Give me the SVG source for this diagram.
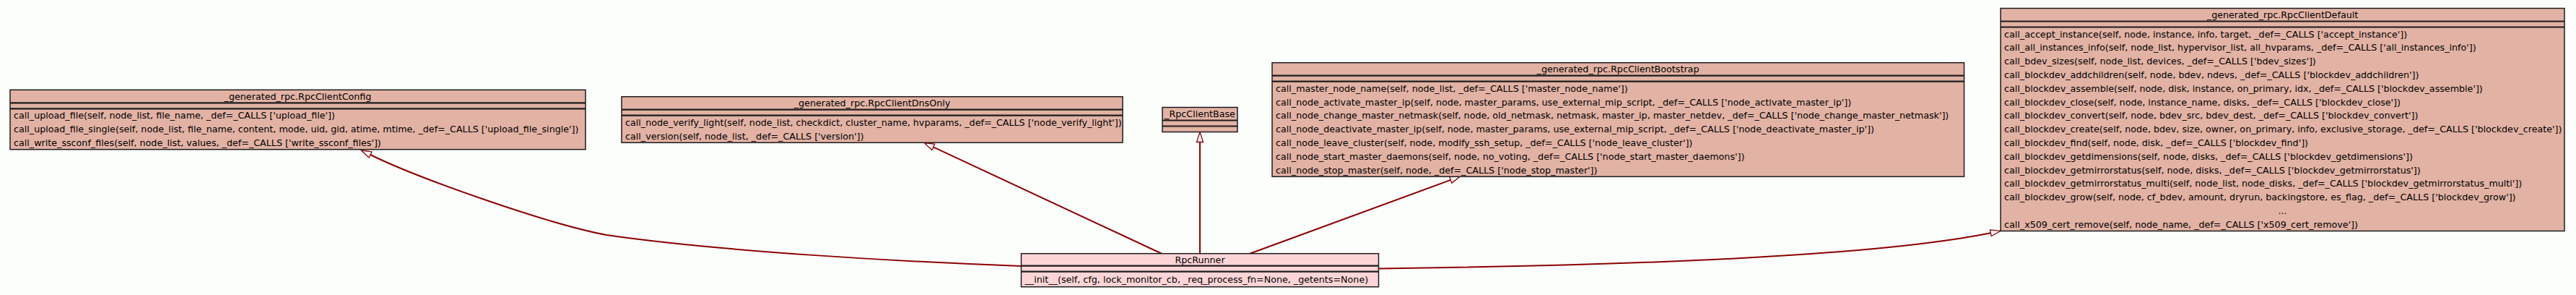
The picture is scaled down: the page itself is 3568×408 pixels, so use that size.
<svg xmlns="http://www.w3.org/2000/svg" width="3568" height="408" viewBox="0 0 3568 408">
<style>
.bg{fill:#fcfefc}
.box{fill:#e2b2a4;stroke:#1c1c1c;stroke-width:1.5}
.run{fill:#fdd5d7;stroke:#1c1c1c;stroke-width:1.5}
.sep{stroke:#1c1c1c;stroke-width:2.2}
text{font-family:"DejaVu Sans","Liberation Sans",sans-serif;font-size:12.7px;fill:#000}
.h{text-anchor:middle}
.edge{fill:none;stroke:#8b0000;stroke-width:2;marker-end:url(#tri)}
</style>
<defs>
<marker id="tri" markerUnits="userSpaceOnUse" markerWidth="16" markerHeight="12" viewBox="0 -6 16 12" refX="0" refY="0" orient="auto" overflow="visible">
<path d="M0,-4.5 L14,0 L0,4.5 Z" fill="#fcfefc" stroke="#8b0000" stroke-width="1.3"/>
</marker>
</defs>
<rect class="bg" x="0" y="0" width="3568" height="408"/>

<g id="edges">
<path class="edge" d="M1414.5,368 C1250,362 1000,348 840,325 C760,310 580,247 513,214"/>
<path class="edge" d="M1609.5,351 L1292.7,203.4"/>
<path class="edge" d="M1662,351 L1662,196.5"/>
<path class="edge" d="M1730.5,351 L2009.3,248.9"/>
<path class="edge" d="M1909.5,371.5 C2250,367 2590,355.7 2757.3,322.2"/>
</g>

<g id="RpcClientConfig">
<rect class="box" x="14" y="124.3" width="797" height="82.4"/>
<line class="sep" x1="14" y1="142.3" x2="811" y2="142.3"/>
<line class="sep" x1="14" y1="150.3" x2="811" y2="150.3"/>
<text class="h" x="412.5" y="137.9">_generated_rpc.RpcClientConfig</text>
<text x="19" y="164.3">call_upload_file(self, node_list, file_name, _def=_CALLS ['upload_file'])</text>
<text x="19" y="183.1">call_upload_file_single(self, node_list, file_name, content, mode, uid, gid, atime, mtime, _def=_CALLS ['upload_file_single'])</text>
<text x="19" y="201.9">call_write_ssconf_files(self, node_list, values, _def=_CALLS ['write_ssconf_files'])</text>
</g>

<g id="RpcClientDnsOnly">
<rect class="box" x="861" y="133.7" width="694" height="63.6"/>
<line class="sep" x1="861" y1="151.7" x2="1555" y2="151.7"/>
<line class="sep" x1="861" y1="159.7" x2="1555" y2="159.7"/>
<text class="h" x="1208" y="147.3">_generated_rpc.RpcClientDnsOnly</text>
<text x="866" y="173.7">call_node_verify_light(self, node_list, checkdict, cluster_name, hvparams, _def=_CALLS ['node_verify_light'])</text>
<text x="866" y="192.5">call_version(self, node_list, _def=_CALLS ['version'])</text>
</g>

<g id="RpcClientBase">
<rect class="box" x="1610" y="148.5" width="104" height="34"/>
<line class="sep" x1="1610" y1="166.5" x2="1714" y2="166.5"/>
<line class="sep" x1="1610" y1="174.5" x2="1714" y2="174.5"/>
<text class="h" x="1662" y="162.1">_RpcClientBase</text>
</g>

<g id="RpcClientBootstrap">
<rect class="box" x="1762" y="86.7" width="958.5" height="157.6"/>
<line class="sep" x1="1762" y1="104.7" x2="2720.5" y2="104.7"/>
<line class="sep" x1="1762" y1="112.7" x2="2720.5" y2="112.7"/>
<text class="h" x="2241" y="100.3">_generated_rpc.RpcClientBootstrap</text>
<text x="1767" y="126.7">call_master_node_name(self, node_list, _def=_CALLS ['master_node_name'])</text>
<text x="1767" y="145.5">call_node_activate_master_ip(self, node, master_params, use_external_mip_script, _def=_CALLS ['node_activate_master_ip'])</text>
<text x="1767" y="164.3">call_node_change_master_netmask(self, node, old_netmask, netmask, master_ip, master_netdev, _def=_CALLS ['node_change_master_netmask'])</text>
<text x="1767" y="183.1">call_node_deactivate_master_ip(self, node, master_params, use_external_mip_script, _def=_CALLS ['node_deactivate_master_ip'])</text>
<text x="1767" y="201.9">call_node_leave_cluster(self, node, modify_ssh_setup, _def=_CALLS ['node_leave_cluster'])</text>
<text x="1767" y="220.7">call_node_start_master_daemons(self, node, no_voting, _def=_CALLS ['node_start_master_daemons'])</text>
<text x="1767" y="239.5">call_node_stop_master(self, node, _def=_CALLS ['node_stop_master'])</text>
</g>

<g id="RpcClientDefault">
<rect class="box" x="2771" y="11.5" width="781" height="308"/>
<line class="sep" x1="2771" y1="29.5" x2="3552" y2="29.5"/>
<line class="sep" x1="2771" y1="37.5" x2="3552" y2="37.5"/>
<text class="h" x="3161.5" y="25.1">_generated_rpc.RpcClientDefault</text>
<text x="2776" y="51.5">call_accept_instance(self, node, instance, info, target, _def=_CALLS ['accept_instance'])</text>
<text x="2776" y="70.3">call_all_instances_info(self, node_list, hypervisor_list, all_hvparams, _def=_CALLS ['all_instances_info'])</text>
<text x="2776" y="89.1">call_bdev_sizes(self, node_list, devices, _def=_CALLS ['bdev_sizes'])</text>
<text x="2776" y="107.9">call_blockdev_addchildren(self, node, bdev, ndevs, _def=_CALLS ['blockdev_addchildren'])</text>
<text x="2776" y="126.7">call_blockdev_assemble(self, node, disk, instance, on_primary, idx, _def=_CALLS ['blockdev_assemble'])</text>
<text x="2776" y="145.5">call_blockdev_close(self, node, instance_name, disks, _def=_CALLS ['blockdev_close'])</text>
<text x="2776" y="164.3">call_blockdev_convert(self, node, bdev_src, bdev_dest, _def=_CALLS ['blockdev_convert'])</text>
<text x="2776" y="183.1">call_blockdev_create(self, node, bdev, size, owner, on_primary, info, exclusive_storage, _def=_CALLS ['blockdev_create'])</text>
<text x="2776" y="201.9">call_blockdev_find(self, node, disk, _def=_CALLS ['blockdev_find'])</text>
<text x="2776" y="220.7">call_blockdev_getdimensions(self, node, disks, _def=_CALLS ['blockdev_getdimensions'])</text>
<text x="2776" y="239.5">call_blockdev_getmirrorstatus(self, node, disks, _def=_CALLS ['blockdev_getmirrorstatus'])</text>
<text x="2776" y="258.3">call_blockdev_getmirrorstatus_multi(self, node_list, node_disks, _def=_CALLS ['blockdev_getmirrorstatus_multi'])</text>
<text x="2776" y="277.1">call_blockdev_grow(self, node, cf_bdev, amount, dryrun, backingstore, es_flag, _def=_CALLS ['blockdev_grow'])</text>
<text class="h" x="3161.5" y="295.9">...</text>
<text x="2776" y="314.7">call_x509_cert_remove(self, node_name, _def=_CALLS ['x509_cert_remove'])</text>
</g>

<g id="RpcRunner">
<rect class="run" x="1414.5" y="350.7" width="495" height="46"/>
<line class="sep" x1="1414.5" y1="367.7" x2="1909.5" y2="367.7"/>
<line class="sep" x1="1414.5" y1="375.7" x2="1909.5" y2="375.7"/>
<text class="h" x="1662" y="363.8">RpcRunner</text>
<text x="1419.5" y="390.8">__init__(self, cfg, lock_monitor_cb, _req_process_fn=None, _getents=None)</text>
</g>
</svg>
